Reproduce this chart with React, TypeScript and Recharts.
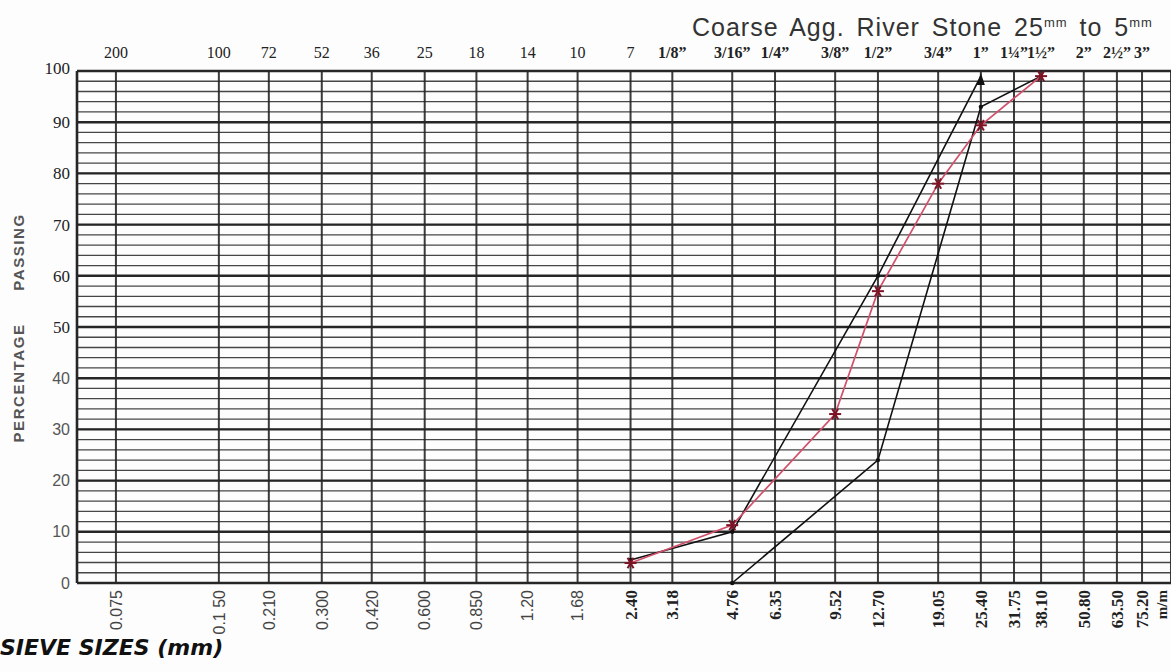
import React from "react";
import {
  LineChart,
  Line,
  XAxis,
  YAxis,
  CartesianGrid,
  ReferenceLine,
} from "recharts";

// sieve openings (mm), as printed on the grading sheet
const sieveSizes = [
  0.075, 0.15, 0.21, 0.3, 0.42, 0.6, 0.85, 1.2, 1.68, 2.4, 3.18, 4.76, 6.35,
  9.52, 12.7, 19.05, 25.4, 31.75, 38.1, 50.8, 63.5, 75.2,
];
const mmLabels = [
  "0.075", "0.1 50", "0.210", "0.300", "0.420", "0.600", "0.850", "1.20",
  "1.68", "2.40", "3.18", "4.76", "6.35", "9.52", "12.70", "19.05", "25.40",
  "31.75", "38.10", "50.80", "63.50", "75.20",
];
const meshLabels = [
  "200", "100", "72", "52", "36", "25", "18", "14", "10", "7", "1/8”",
  "3/16”", "1/4”", "3/8”", "1/2”", "3/4”", "1”", "1¼”", "1½”", "2”", "2½”",
  "3”",
];

const percentTicks = [0, 10, 20, 30, 40, 50, 60, 70, 80, 90, 100];
const minorTicks = [
  0, 2, 4, 6, 8, 10, 12, 14, 16, 18, 20, 22, 24, 26, 28, 30, 32, 34, 36, 38,
  40, 42, 44, 46, 48, 50, 52, 54, 56, 58, 60, 62, 64, 66, 68, 70, 72, 74, 76,
  78, 80, 82, 84, 86, 88, 90, 92, 94, 96, 98, 100,
];
const majorLines = [10, 20, 30, 40, 50, 60, 70, 80, 90];

// sample grading (red, starred)
const sampleSizes = [2.4, 4.76, 9.52, 12.7, 19.05, 25.4, 38.1];
const samplePassing = [3.9, 11.3, 33, 57, 78, 89.4, 99];

// upper envelope
const upperSizes = [2.4, 4.76, 12.7, 25.4];
const upperPassing = [4.5, 10, 60, 99];

// lower envelope
const lowerSizes = [4.76, 12.7, 25.4, 38.1];
const lowerPassing = [0, 24, 93, 99];

const toRows = (sizes: number[], vals: number[]) =>
  sizes.map((s, i) => ({ size: s, pass: vals[i] }));

const sampleData = toRows(sampleSizes, samplePassing);
const upperData = toRows(upperSizes, upperPassing);
const lowerData = toRows(lowerSizes, lowerPassing);

const DOMAIN: [number, number] = [0.0577, 91.4];
const INK = "#262626";

const BottomTick = (props: any) => {
  const { x, y, payload } = props;
  const i = sieveSizes.indexOf(payload.value);
  if (i < 0) return null;
  const coarse = payload.value >= 2;
  return (
    <text
      transform={`translate(${x},${y + 7}) rotate(-90)`}
      textAnchor="end"
      dy="0.36em"
      fontSize={coarse ? 17 : 16}
      fontFamily={coarse ? "Liberation Serif, serif" : "Liberation Sans, Arial, sans-serif"}
      fontWeight={coarse ? 700 : 400}
      fill={coarse ? "#222" : "#444"}
    >
      {mmLabels[i]}
    </text>
  );
};

const TopTick = (props: any) => {
  const { x, y, payload } = props;
  const i = sieveSizes.indexOf(payload.value);
  if (i < 0) return null;
  return (
    <text
      x={x}
      y={y - 13}
      textAnchor="middle"
      fontSize={16}
      fontFamily="Liberation Serif, serif"
      fontWeight={i >= 10 ? 700 : 400}
      fill="#222"
    >
      {meshLabels[i]}
    </text>
  );
};

const LeftTick = (props: any) => {
  const { x, y, payload } = props;
  if (!percentTicks.includes(payload.value)) return null;
  const serif = payload.value >= 50;
  return (
    <text
      x={x - 7}
      y={y - (payload.value === 100 ? 3 : 0)}
      dy="0.35em"
      textAnchor="end"
      fontSize={serif ? 17 : 16}
      fontFamily={serif ? "Liberation Serif, serif" : "Liberation Sans, Arial, sans-serif"}
      fill={serif ? "#222" : "#555"}
    >
      {payload.value}
    </text>
  );
};

const StarDot = (props: any) => {
  const { cx, cy } = props;
  if (cx == null || cy == null) return null;
  const r = 6;
  return (
    <g stroke="#7d1426" strokeWidth={2}>
      <line x1={cx - r} y1={cy} x2={cx + r} y2={cy} />
      <line x1={cx - r * 0.5} y1={cy - r * 0.87} x2={cx + r * 0.5} y2={cy + r * 0.87} />
      <line x1={cx - r * 0.5} y1={cy + r * 0.87} x2={cx + r * 0.5} y2={cy - r * 0.87} />
    </g>
  );
};

const InkDot = (props: any) => {
  const { cx, cy, index } = props;
  if (cx == null || cy == null) return null;
  if (props.arrowAt === index) {
    return <path d={`M${cx},${cy - 3} L${cx - 4},${cy + 9} L${cx + 4},${cy + 9} Z`} fill="#111" />;
  }
  return <circle cx={cx} cy={cy} r={2.2} fill="#111" />;
};

export default function App() {
  return (
    <div
      style={{
        position: "absolute",
        left: 0,
        top: 0,
        width: 1171,
        height: 672,
        background: "#fdfdfd",
        overflow: "hidden",
      }}
    >
      <div
        style={{
          position: "absolute",
          left: 692,
          top: 8,
          fontFamily: "Liberation Sans, Arial, sans-serif",
          fontSize: 25,
          lineHeight: "30px",
          color: "#333",
          letterSpacing: 1,
          wordSpacing: 4,
          whiteSpace: "nowrap",
          zIndex: 2,
        }}
      >
        Coarse Agg. River Stone 25<sup style={{ fontSize: 13 }}>mm</sup> to 5
        <sup style={{ fontSize: 13 }}>mm</sup>
      </div>
      <div
        style={{
          position: "absolute",
          left: 0,
          top: 635,
          fontFamily: "DejaVu Sans, Verdana, sans-serif",
          fontSize: 22,
          fontWeight: 700,
          fontStyle: "italic",
          color: "#111",
          whiteSpace: "nowrap",
          zIndex: 2,
        }}
      >
        SIEVE SIZES (mm)
      </div>
      <LineChart
        width={1171}
        height={672}
        margin={{ top: 41, right: 0, left: 0, bottom: 0 }}
      >
        <CartesianGrid
          horizontal={false}
          stroke={INK}
          strokeWidth={2}
          strokeOpacity={0.9}
        />
        <CartesianGrid
          vertical={false}
          stroke={INK}
          strokeWidth={1.3}
          strokeOpacity={0.85}
        />
        <XAxis
          dataKey="size"
          type="number"
          scale="log"
          domain={DOMAIN}
          allowDataOverflow
          ticks={sieveSizes}
          interval={0}
          height={89}
          tickLine={false}
          tickSize={0}
          tickMargin={0}
          tick={<BottomTick />}
          axisLine={{ stroke: INK, strokeWidth: 2.6 }}
          label={{
            content: (p: any) => {
              const vb = p.viewBox || { x: 77, y: 583, width: 1094 };
              return (
                <text
                  transform={`translate(${vb.x + vb.width - 9},${vb.y + 7}) rotate(-90)`}
                  textAnchor="end"
                  dy="0.36em"
                  fontSize={15}
                  fontWeight={700}
                  fontFamily="Liberation Serif, serif"
                  fill="#222"
                >
                  m/m
                </text>
              );
            },
          }}
        />
        <XAxis
          xAxisId="top"
          dataKey="size"
          orientation="top"
          type="number"
          scale="log"
          domain={DOMAIN}
          allowDataOverflow
          ticks={sieveSizes}
          interval={0}
          height={30}
          tickLine={false}
          tickSize={0}
          tickMargin={0}
          tick={<TopTick />}
          axisLine={{ stroke: INK, strokeWidth: 2.6 }}
        />
        <YAxis
          type="number"
          domain={[0, 100]}
          ticks={minorTicks}
          interval={0}
          width={77}
          tickLine={false}
          tickSize={0}
          tickMargin={0}
          tick={<LeftTick />}
          axisLine={{ stroke: INK, strokeWidth: 2.6 }}
          label={{
            content: () => (
              <g
                fontFamily="Liberation Sans, Arial, sans-serif"
                fontWeight={700}
                fontSize={15}
                fill="#555"
                letterSpacing={1.6}
              >
                <text transform="translate(24,383) rotate(-90)" textAnchor="middle">
                  PERCENTAGE
                </text>
                <text transform="translate(24,252) rotate(-90)" textAnchor="middle">
                  PASSING
                </text>
              </g>
            ),
          }}
        />
        {majorLines.map((v) => (
          <ReferenceLine
            key={v}
            y={v}
            stroke={INK}
            strokeWidth={2.4}
            ifOverflow="hidden"
          />
        ))}
        <Line
          data={upperData}
          dataKey="pass"
          type="linear"
          stroke="#111"
          strokeWidth={1.6}
          dot={<InkDot arrowAt={3} />}
          activeDot={false}
          isAnimationActive={false}
        />
        <Line
          data={lowerData}
          dataKey="pass"
          type="linear"
          stroke="#111"
          strokeWidth={1.6}
          dot={<InkDot arrowAt={-1} />}
          activeDot={false}
          isAnimationActive={false}
        />
        <Line
          data={sampleData}
          dataKey="pass"
          type="linear"
          stroke="#d2506b"
          strokeWidth={1.7}
          dot={<StarDot />}
          activeDot={false}
          isAnimationActive={false}
        />
      </LineChart>
    </div>
  );
}
